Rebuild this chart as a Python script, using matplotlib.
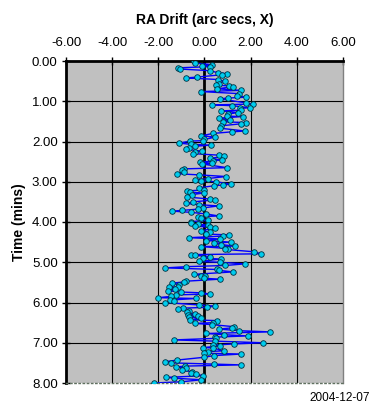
import numpy as np
import matplotlib
matplotlib.use("Agg")
import matplotlib.pyplot as plt

plt.rcParams['font.family'] = ['Liberation Sans', 'DejaVu Sans']

# tiempo (min) y deriva en AR (segundos de arco)
tiempo = [
    0.00, 0.05, 0.09, 0.12, 0.14, 0.17, 0.20, 0.24, 0.29, 0.32, 0.34, 0.40, 0.42, 0.46,
    0.50, 0.56, 0.60, 0.62, 0.64, 0.69, 0.73, 0.76, 0.81, 0.86, 0.90, 0.92, 0.94, 1.04,
    1.07, 1.09, 1.11, 1.16, 1.18, 1.22, 1.24, 1.28, 1.32, 1.37, 1.38, 1.42, 1.47, 1.51,
    1.53, 1.56, 1.61, 1.67, 1.74, 1.76, 1.80, 1.86, 1.89, 1.95, 1.98, 1.99, 2.04, 2.07,
    2.09, 2.12, 2.15, 2.19, 2.24, 2.27, 2.30, 2.34, 2.37, 2.42, 2.46, 2.48, 2.52, 2.54,
    2.56, 2.65, 2.68, 2.71, 2.76, 2.80, 2.83, 2.87, 2.92, 2.96, 2.98, 3.00, 3.06, 3.08,
    3.10, 3.15, 3.20, 3.23, 3.26, 3.28, 3.32, 3.38, 3.43, 3.45, 3.50, 3.54, 3.57, 3.60,
    3.65, 3.68, 3.71, 3.73, 3.76, 3.80, 3.85, 3.87, 3.91, 3.96, 3.99, 4.03, 4.05, 4.08,
    4.10, 4.13, 4.15, 4.22, 4.26, 4.30, 4.32, 4.35, 4.39, 4.42, 4.46, 4.50, 4.53, 4.56,
    4.60, 4.61, 4.66, 4.68, 4.74, 4.79, 4.81, 4.83, 4.86, 4.90, 4.92, 4.98, 5.00, 5.04,
    5.08, 5.11, 5.14, 5.18, 5.20, 5.24, 5.30, 5.33, 5.35, 5.40, 5.42, 5.47, 5.49, 5.52,
    5.56, 5.61, 5.62, 5.66, 5.71, 5.74, 5.76, 5.79, 5.81, 5.85, 5.88, 5.90, 5.94, 5.97,
    6.00, 6.06, 6.09, 6.12, 6.14, 6.17, 6.20, 6.24, 6.28, 6.31, 6.33, 6.36, 6.39, 6.43,
    6.45, 6.50, 6.52, 6.55, 6.60, 6.63, 6.66, 6.70, 6.73, 6.77, 6.80, 6.83, 6.86, 6.89,
    6.93, 6.96, 7.00, 7.03, 7.06, 7.08, 7.12, 7.13, 7.20, 7.22, 7.26, 7.28, 7.32, 7.36,
    7.43, 7.47, 7.50, 7.53, 7.55, 7.58, 7.60, 7.63, 7.68, 7.72, 7.76, 7.78, 7.82, 7.86,
    7.88, 7.92, 7.97, 8.00,
]
deriva = [
    -0.46, -0.43, 0.32, -0.12, 0.25, -1.16, -1.05, 0.22, 0.58, 0.98, 0.77, -0.32, -0.79, 0.58,
    0.87, 0.61, 0.50, 1.08, 1.23, 0.55, 1.59, -0.14, 1.48, 1.42, 1.80, 1.01, 0.65, 1.80,
    2.10, 0.33, 1.18, 1.95, 1.52, 1.59, 0.72, 1.45, 1.01, 0.98, 1.66, 0.62, 1.10, 0.79,
    1.80, 1.59, 0.72, 0.68, 1.76, 1.18, 0.36, -0.14, 0.46, 0.00, -0.07, -0.62, -1.11, -0.58,
    0.26, -0.43, -0.65, -0.82, -0.12, -0.43, -0.51, 0.62, 0.84, 0.22, 0.77, 0.36, -0.19, 0.33,
    -0.10, 0.98, -0.88, -0.98, -0.90, -1.20, -0.22, 0.94, 0.14, -0.40, -0.17, 0.51, 1.13, 0.79,
    0.40, -0.22, 0.00, -0.77, -0.61, -0.03, -0.55, -0.75, 0.25, 0.46, -0.51, -0.80, -0.25, 0.61,
    -0.07, -0.26, -0.98, -1.40, -0.58, 0.07, 0.62, -0.29, -0.14, 0.14, -0.60, -0.58, -0.27, 0.14,
    -0.40, 0.22, 0.46, -0.14, 0.25, 0.07, 1.08, 0.79, -0.68, 0.65, 0.07, 1.13, 0.40, 0.72,
    1.32, -0.17, 1.01, 0.90, 2.14, 2.46, -0.58, -0.39, 0.22, -0.07, 0.72, -0.22, 0.65, 1.76,
    0.90, -0.80, -1.69, 0.55, 0.61, 1.23, -0.46, -0.14, 0.03, 0.00, 0.68, -0.78, -0.90, -1.42,
    -1.10, -1.13, -1.52, -1.27, -1.59, -1.01, -0.14, 0.25, -1.23, -1.47, -2.02, -0.36, -1.50, -1.30,
    -1.71, -0.22, 0.46, 0.12, -0.94, -1.13, -0.68, -0.76, -0.40, -0.72, -0.26, -0.65, -0.14, -0.61,
    0.55, 0.36, -0.39, 0.32, 1.26, 1.20, 0.61, 1.49, 2.85, 0.07, 0.84, 1.88, 0.46, 0.51,
    -1.33, 0.46, 2.53, 1.27, 0.35, 0.69, -0.07, 0.36, 0.84, 0.14, 0.00, 1.59, 0.40, 0.00,
    -1.18, -1.69, -1.43, 0.40, 1.59, -0.83, -1.23, -0.80, -0.98, -0.55, -0.58, -0.36, -0.07, -1.66,
    -1.30, -0.14, -1.00, -2.20,
]

xticks = [-6, -4, -2, 0, 2, 4, 6]
yticks = [0, 1, 2, 3, 4, 5, 6, 7, 8]

fig = plt.figure(figsize=(3.77, 4.07), dpi=100)
ax = fig.add_axes([66/377, 1-383/407, 277/377, 322/407])
ax.set_facecolor('#c0c0c0')

for x in xticks[1:-1]:
    ax.axvline(x, color='black', lw=2.0 if x == 0 else 0.8, zorder=1)
for y in yticks[1:-1]:
    ax.axhline(y, color='black', lw=0.8, zorder=1)

ax.plot(deriva, tiempo, '-', color='#0000ff', lw=1.0, zorder=2)
ax.plot(deriva, tiempo, 'o', ms=4.0, mfc='#00ccee', mec='#003040', mew=0.6, zorder=3)

ax.set_xlim(-6, 6)
ax.set_ylim(8, 0)
ax.xaxis.tick_top()
ax.xaxis.set_label_position('top')
ax.set_xticks(xticks)
ax.set_xticklabels(['%.2f' % v for v in xticks])
ax.set_yticks(yticks)
ax.set_yticklabels(['%.2f' % v for v in yticks])
ax.tick_params(axis='both', direction='inout', length=6, width=1, labelsize=9.5, pad=3)
ax.tick_params(axis='x', pad=6)

ax.set_xlabel('RA Drift (arc secs, X)', fontsize=10, fontweight='bold', labelpad=9)
ax.set_ylabel('Time (mins)', fontsize=10, fontweight='bold', labelpad=4)

ax.spines['left'].set_linewidth(2)
ax.spines['top'].set_linewidth(2)
ax.spines['right'].set_color('#808080')
ax.spines['right'].set_linewidth(1)
ax.spines['bottom'].set_color('#607060')
ax.spines['bottom'].set_linestyle((0, (1, 2)))
ax.spines['bottom'].set_linewidth(1)

fig.text(370/377, 1-398/407, '2004-12-07', ha='right', va='center', fontsize=8.5)

fig.savefig('out.png', dpi=100)
